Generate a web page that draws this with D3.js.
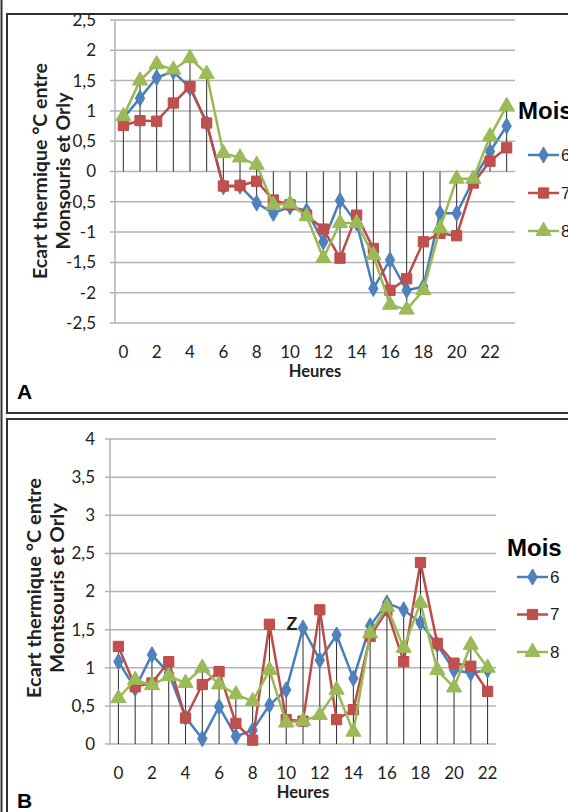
<!DOCTYPE html>
<html>
<head>
<meta charset="utf-8">
<script src="https://cdn.jsdelivr.net/npm/d3@7"></script>
<style>
  body { margin: 0; background: #fff; }
  svg { display: block; }
</style>
</head>
<body>
<script>
// months shown in the legend
var months = ["6", "7", "8"];
var colors = {"6": "#4a7ebb", "7": "#be4b48", "8": "#98b954"};
var fills = {"6": "#4f81bd", "7": "#c0504d", "8": "#9bbb59"};
var shapes = {"6": d3.symbolDiamond, "7": d3.symbolSquare, "8": d3.symbolTriangle};
var sizes = {"6": 75, "7": 105, "8": 100};

// panel A : hours 0-23
var hoursA = d3.range(0, 24);
var a6 = [0.88, 1.21, 1.55, 1.65, 1.38, 0.8, -0.25, -0.24, -0.52, -0.69, -0.58, -0.65, -1.16, -0.48, -0.85, -1.93, -1.46, -1.96, -1.9, -0.69, -0.69, -0.14, 0.33, 0.75];
var a7 = [0.76, 0.84, 0.83, 1.13, 1.4, 0.8, -0.24, -0.23, -0.16, -0.47, -0.55, -0.72, -0.95, -1.43, -0.72, -1.27, -1.96, -1.77, -1.16, -1.02, -1.06, -0.19, 0.17, 0.39];
var a8 = [0.91, 1.5, 1.77, 1.68, 1.87, 1.61, 0.3, 0.23, 0.11, -0.55, -0.53, -0.74, -1.43, -0.85, -0.85, -1.38, -2.2, -2.28, -1.96, -0.94, -0.12, -0.12, 0.58, 1.08];
var ticksA = [-2.5, -2, -1.5, -1, -0.5, 0, 0.5, 1, 1.5, 2, 2.5];

// panel B : hours 0-22
var hoursB = d3.range(0, 23);
var b6 = [1.08, 0.73, 1.17, 0.93, 0.35, 0.07, 0.49, 0.1, 0.18, 0.51, 0.71, 1.52, 1.1, 1.43, 0.86, 1.55, 1.85, 1.76, 1.59, 1.3, 0.97, 0.93, 0.97];
var b7 = [1.28, 0.75, 0.8, 1.08, 0.34, 0.78, 0.95, 0.27, 0.05, 1.57, 0.32, 0.3, 1.76, 0.32, 0.45, 1.41, 1.75, 1.08, 2.38, 1.32, 1.06, 1.02, 0.69];
var b8 = [0.6, 0.84, 0.77, 0.89, 0.8, 1.0, 0.78, 0.65, 0.56, 0.97, 0.28, 0.3, 0.38, 0.71, 0.16, 1.45, 1.8, 1.26, 1.85, 0.97, 0.74, 1.3, 1.0];
var ticksB = [0, 0.5, 1, 1.5, 2, 2.5, 3, 3.5, 4];

var fmt = function(d) { return String(d).replace(".", ","); };

var svg = d3.select("body").append("svg")
  .attr("width", 568)
  .attr("height", 812);

// frames
svg.append("line").attr("x1", 1.5).attr("x2", 1.5).attr("y1", 0).attr("y2", 812)
  .attr("stroke", "#333").attr("stroke-width", 2);
svg.append("rect").attr("x", 7).attr("y", 14).attr("width", 580).attr("height", 399)
  .attr("fill", "none").attr("stroke", "#333").attr("stroke-width", 2);
svg.append("rect").attr("x", 7).attr("y", 419).attr("width", 580).attr("height", 420)
  .attr("fill", "none").attr("stroke", "#333").attr("stroke-width", 2);

function drawPanel(cfg) {
  var g = svg.append("g");
  var x = d3.scaleBand().domain(cfg.hours).range([cfg.left, cfg.right]);
  var y = d3.scaleLinear().domain(cfg.domain).range([cfg.bottom, cfg.top]);
  var cx = function(h) { return x(h) + x.bandwidth() / 2; };

  // gridlines
  g.selectAll(".grid").data(cfg.ticks).enter().append("line")
    .attr("x1", cfg.left - 5).attr("x2", cfg.right)
    .attr("y1", function(d) { return y(d); }).attr("y2", function(d) { return y(d); })
    .attr("stroke", "#b3b3b3").attr("stroke-width", 1.5);
  g.append("line").attr("x1", cfg.left).attr("x2", cfg.left)
    .attr("y1", cfg.top).attr("y2", cfg.bottom)
    .attr("stroke", "#b3b3b3").attr("stroke-width", 1.5);

  // y tick labels
  g.selectAll(".yt").data(cfg.ticks).enter().append("text")
    .attr("x", cfg.tickX).attr("y", function(d) { return y(d); })
    .attr("dy", "0.35em").attr("text-anchor", "end")
    .style("font-family", "Lato").style("font-size", "17px").attr("fill", "#222")
    .text(fmt);

  // drop lines from 0 to each point
  var all = cfg.series.map(function(s) { return s.values; });
  cfg.hours.forEach(function(h, i) {
    var vals = all.map(function(v) { return v[i]; });
    var hi = Math.max(0, d3.max(vals)), lo = Math.min(0, d3.min(vals));
    g.append("line").attr("x1", cx(h)).attr("x2", cx(h))
      .attr("y1", y(hi)).attr("y2", y(lo))
      .attr("stroke", "#2b2b2b").attr("stroke-width", 1);
  });

  // x labels every 2 hours
  g.selectAll(".xt").data(cfg.hours.filter(function(h) { return h % 2 === 0; })).enter().append("text")
    .attr("x", function(h) { return cx(h); }).attr("y", cfg.xLabelY)
    .attr("text-anchor", "middle")
    .style("font-family", "Lato").style("font-size", "17px").attr("fill", "#222")
    .text(function(h) { return h; });

  g.append("text").attr("x", (cfg.left + cfg.right) / 2).attr("y", cfg.xLabelY + 19)
    .attr("text-anchor", "middle")
    .style("font-family", "Lato").style("font-weight", "bold").style("font-size", "16.5px")
    .attr("fill", "#222")
    .text("Heures");

  // y title, two lines
  var ty = g.append("text")
    .attr("transform", "translate(" + cfg.titleX + "," + cfg.titleY + ") rotate(-90)")
    .attr("text-anchor", "middle")
    .style("font-family", "Lato").style("font-weight", "bold").style("font-size", "18px").attr("fill", "#222");
  ty.append("tspan").attr("x", 0).attr("y", 0)
    .attr("textLength", cfg.len1).attr("lengthAdjust", "spacingAndGlyphs")
    .text("Ecart thermique °C entre");
  ty.append("tspan").attr("x", 0).attr("y", 23)
    .attr("textLength", cfg.len2).attr("lengthAdjust", "spacingAndGlyphs")
    .text(cfg.title2);

  // series
  var line = d3.line().x(function(d) { return cx(d.h); }).y(function(d) { return y(d.v); });
  cfg.series.forEach(function(s) {
    var pts = cfg.hours.map(function(h, i) { return {h: h, v: s.values[i]}; });
    g.append("path").datum(pts).attr("d", line)
      .attr("fill", "none").attr("stroke", colors[s.key]).attr("stroke-width", 2.5);
    g.selectAll(".m" + s.key).data(pts).enter().append("path")
      .attr("transform", function(d) { return "translate(" + cx(d.h) + "," + y(d.v) + ")"; })
      .attr("d", d3.symbol().type(shapes[s.key]).size(sizes[s.key]))
      .attr("fill", fills[s.key]).attr("stroke", colors[s.key]).attr("stroke-width", 1);
  });

  // legend
  g.append("text").attr("x", cfg.legX).attr("y", cfg.legY)
    .style("font-family", "Liberation Sans, Arial").style("font-weight", "bold").style("font-size", "24px")
    .text("Mois");
  months.forEach(function(m, i) {
    var ly = cfg.legY + cfg.legFirst + i * cfg.legStep;
    g.append("line").attr("x1", cfg.legX + 10).attr("x2", cfg.legX + 41)
      .attr("y1", ly).attr("y2", ly).attr("stroke", colors[m]).attr("stroke-width", 2.5);
    g.append("path").attr("transform", "translate(" + (cfg.legX + 25.5) + "," + ly + ")")
      .attr("d", d3.symbol().type(shapes[m]).size(sizes[m]))
      .attr("fill", fills[m]).attr("stroke", colors[m]);
    g.append("text").attr("x", cfg.legX + 43).attr("y", ly).attr("dy", "0.35em")
      .style("font-family", "Liberation Sans, Arial").style("font-size", "17px").attr("fill", "#222")
      .text(m);
  });

  g.append("text").attr("x", 17).attr("y", cfg.panelY)
    .style("font-family", "Liberation Sans, Arial").style("font-weight", "bold").style("font-size", "21px")
    .text(cfg.panel);
}

drawPanel({
  hours: hoursA, domain: [-2.5, 2.5], ticks: ticksA,
  left: 115, right: 515, top: 20, bottom: 323, tickX: 96,
  xLabelY: 358, titleX: 47, titleY: 171, len1: 216, len2: 157, title2: "Monsouris et Orly",
  series: [{key: "6", values: a6}, {key: "7", values: a7}, {key: "8", values: a8}],
  legX: 518, legY: 119, legFirst: 36, legStep: 38,
  panel: "A", panelY: 399
});

drawPanel({
  hours: hoursB, domain: [0, 4], ticks: ticksB,
  left: 110, right: 496, top: 439, bottom: 744, tickX: 95,
  xLabelY: 779, titleX: 41, titleY: 588, len1: 220, len2: 170, title2: "Montsouris et Orly",
  series: [{key: "6", values: b6}, {key: "7", values: b7}, {key: "8", values: b8}],
  legX: 507, legY: 556, legFirst: 21, legStep: 37.5,
  panel: "B", panelY: 808
});

// stray "Z" mark in panel B
svg.append("text").attr("x", 292).attr("y", 630).attr("text-anchor", "middle")
  .style("font-family", "Liberation Sans, Arial").style("font-weight", "bold").style("font-size", "18px")
  .attr("fill", "#222").text("Z");
</script>
</body>
</html>
